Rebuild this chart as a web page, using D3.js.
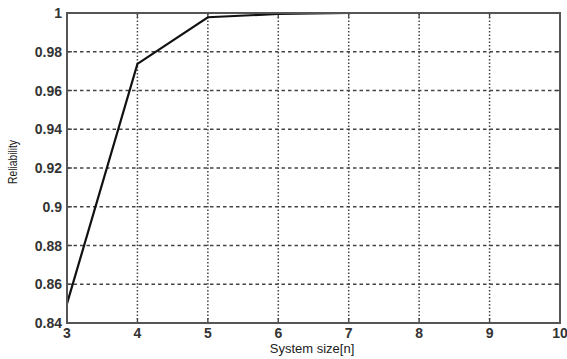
<!DOCTYPE html>
<html>
<head>
<meta charset="utf-8">
<script src="https://cdn.jsdelivr.net/npm/d3@7"></script>
<style>
  html, body { margin: 0; padding: 0; background: #fff; }
  svg { display: block; }
  .tick-label { font-family: "Liberation Sans", Arial, sans-serif; font-size: 14px; font-weight: bold; fill: #333; }
  .axis-title { font-family: "Liberation Sans", Arial, sans-serif; font-size: 13px; fill: #222; }
</style>
</head>
<body>
<svg id="chart" width="567" height="359"></svg>
<script>
// Reliability versus system size
const systemSize = [3, 4, 5, 6, 7, 8];
const reliability = [0.85, 0.9737, 0.9978, 0.9995, 1.0, 1.0];
const xTicks = [3, 4, 5, 6, 7, 8, 9, 10];
const yTicks = [0.84, 0.86, 0.88, 0.9, 0.92, 0.94, 0.96, 0.98, 1];

const W = 567, H = 359;
const margin = { left: 67, right: 7, top: 13, bottom: 36 };
const svg = d3.select("#chart");

const x = d3.scaleLinear().domain([3, 10]).range([margin.left, W - margin.right]);
const y = d3.scaleLinear().domain([0.84, 1]).range([H - margin.bottom, margin.top]);

const x0 = x.range()[0], x1 = x.range()[1];
const y0 = y.range()[0], y1 = y.range()[1];

// grid: dashed horizontals, dotted verticals
svg.append("g").selectAll("line")
  .data(yTicks.slice(1, -1))
  .join("line")
  .attr("x1", x0).attr("x2", x1)
  .attr("y1", d => y(d)).attr("y2", d => y(d))
  .attr("stroke", "#444").attr("stroke-width", 1.3)
  .attr("stroke-dasharray", "3.5,3");

svg.append("g").selectAll("line")
  .data(xTicks.slice(1, -1))
  .join("line")
  .attr("x1", d => x(d)).attr("x2", d => x(d))
  .attr("y1", y0).attr("y2", y1)
  .attr("stroke", "#444").attr("stroke-width", 1.5)
  .attr("stroke-dasharray", "1.5,2");

// inward tick marks on all four sides
const tl = 5;
const tg = svg.append("g").attr("stroke", "#444").attr("stroke-width", 1.3);
xTicks.forEach(t => {
  tg.append("line").attr("x1", x(t)).attr("x2", x(t)).attr("y1", y0).attr("y2", y0 - tl);
  tg.append("line").attr("x1", x(t)).attr("x2", x(t)).attr("y1", y1).attr("y2", y1 + tl);
});
yTicks.forEach(t => {
  tg.append("line").attr("x1", x0).attr("x2", x0 + tl).attr("y1", y(t)).attr("y2", y(t));
  tg.append("line").attr("x1", x1).attr("x2", x1 - tl).attr("y1", y(t)).attr("y2", y(t));
});

// data line
const line = d3.line().x((d, i) => x(systemSize[i])).y(d => y(d));
svg.append("path")
  .datum(reliability)
  .attr("d", line)
  .attr("fill", "none")
  .attr("stroke", "#111")
  .attr("stroke-width", 2.2)
  .attr("stroke-linejoin", "miter");

// axes frame
svg.append("rect")
  .attr("x", x0).attr("y", y1)
  .attr("width", x1 - x0).attr("height", y0 - y1)
  .attr("fill", "none")
  .attr("stroke", "#555").attr("stroke-width", 2);

// tick labels
const fmt = d => d3.format("~g")(d);
svg.append("g").selectAll("text")
  .data(yTicks)
  .join("text")
  .attr("class", "tick-label")
  .attr("x", x0 - 5)
  .attr("y", d => y(d))
  .attr("dy", "0.36em")
  .attr("text-anchor", "end")
  .text(fmt);

svg.append("g").selectAll("text")
  .data(xTicks)
  .join("text")
  .attr("class", "tick-label")
  .attr("x", d => x(d))
  .attr("y", y0 + 15)
  .attr("text-anchor", "middle")
  .text(fmt);

// axis titles
svg.append("text")
  .attr("class", "axis-title")
  .attr("x", 312)
  .attr("y", 353)
  .attr("text-anchor", "middle")
  .text("System size[n]");

svg.append("text")
  .attr("class", "axis-title")
  .attr("transform", `translate(17, 162) rotate(-90)`)
  .attr("text-anchor", "middle")
  .style("font-size", "12px")
  .attr("textLength", 44)
  .attr("lengthAdjust", "spacingAndGlyphs")
  .text("Reliability");
</script>
</body>
</html>
